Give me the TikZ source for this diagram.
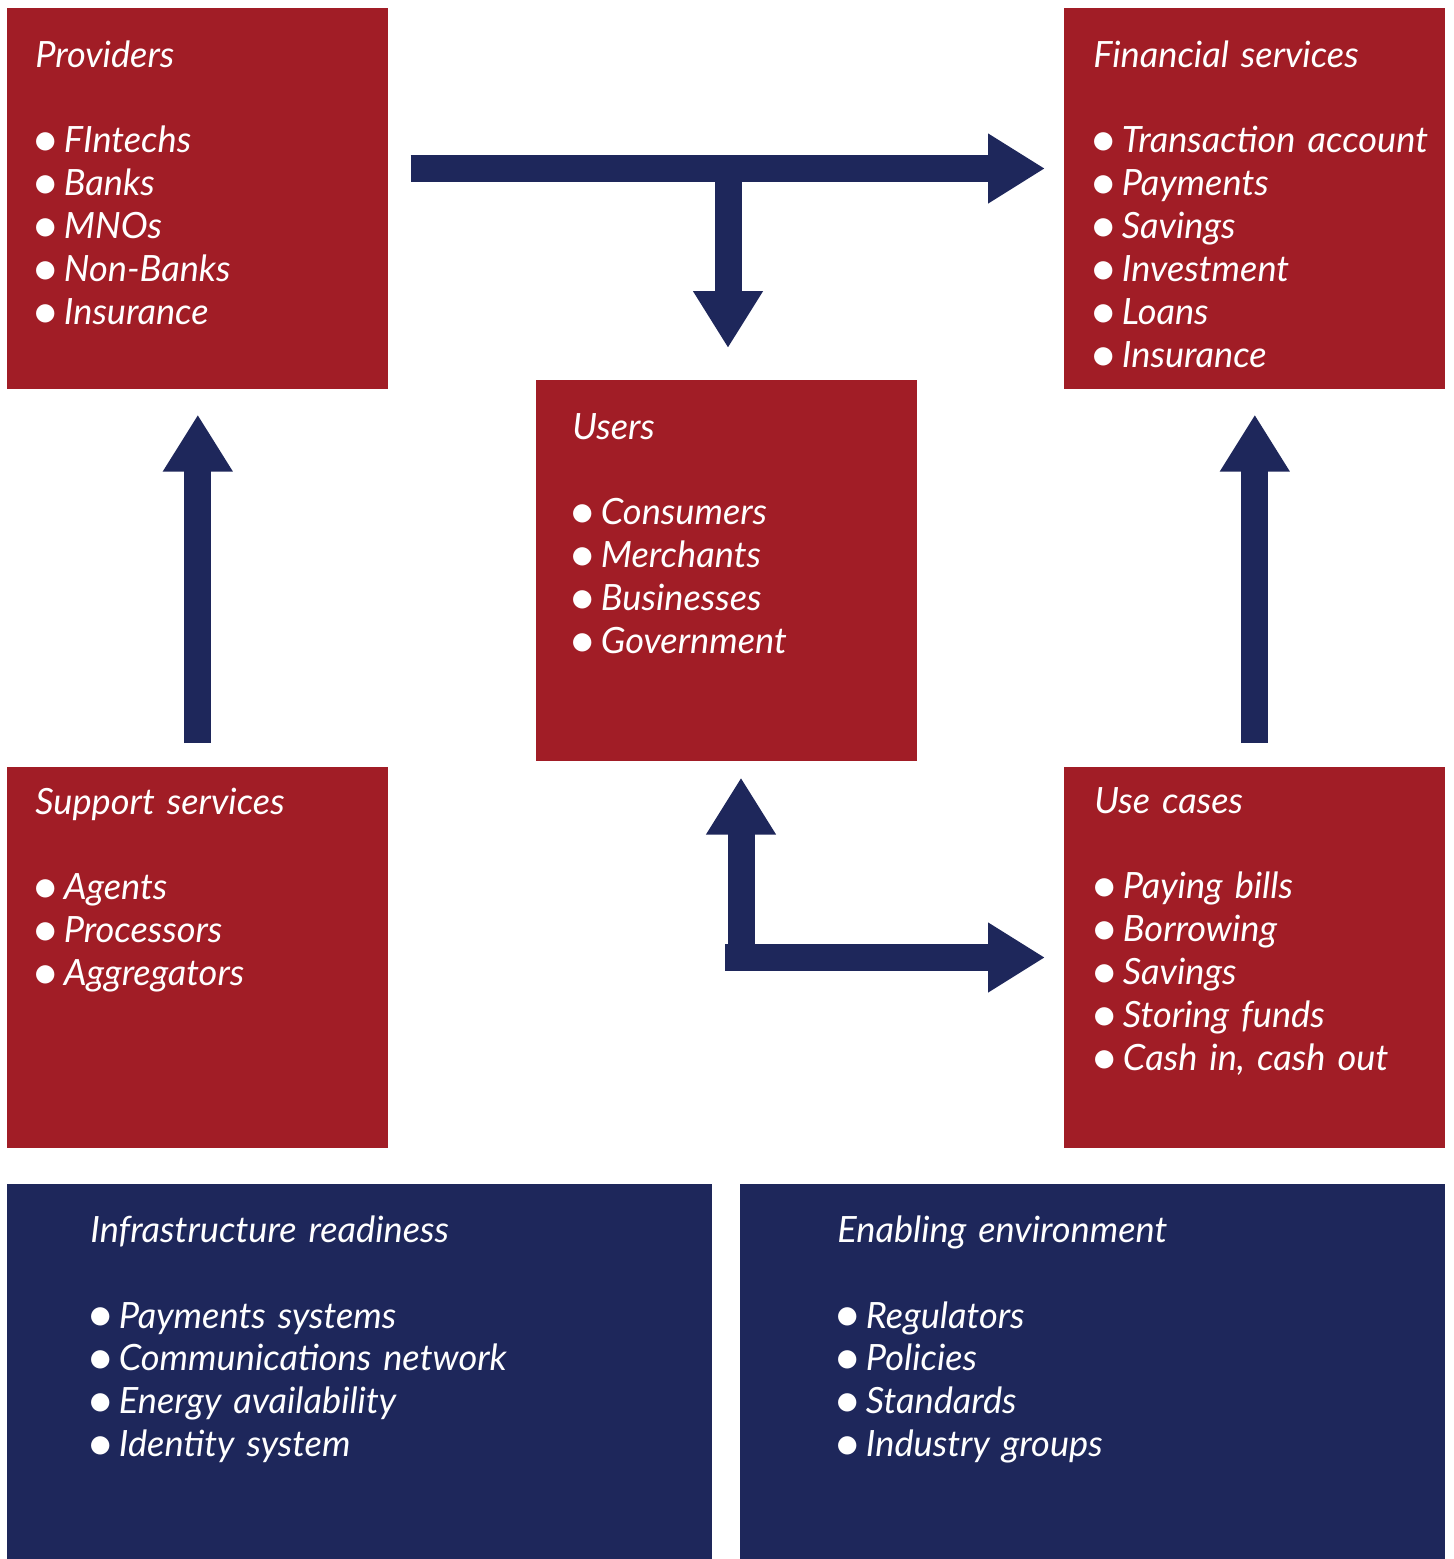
\documentclass[tikz,border=0pt]{standalone}
\usepackage{fontspec}
\setmainfont{Lato}
\usetikzlibrary{arrows.meta}
\definecolor{boxred}{RGB}{161,29,38}
\definecolor{navy}{RGB}{30,39,91}
\newcommand{\bpt}{\hspace{-0.08cm}\smash{\raisebox{-0.07cm}{\fontsize{28}{0}\selectfont\textbullet}}\hspace{0.08cm}}

\begin{document}
\begin{tikzpicture}[x=0.02cm, y=-0.02cm,
    redbox/.style={fill=boxred, minimum width=7.62cm, minimum height=7.62cm, anchor=north west, inner sep=0},
    bluebox/.style={fill=navy, minimum width=14.1cm, minimum height=7.5cm, anchor=north west, inner sep=0},
    txt/.style={text=white, anchor=base west, inner sep=0, text width=10cm, align=left, font=\fontsize{20.6}{24.47}\selectfont\itshape},
    bigarrow/.style={navy, line width=0.54cm, -{Triangle[length=1.14cm, width=1.32cm]}}]
    \useasboundingbox (0,0) rectangle (1454,1559);

    % boxes
    \node[redbox] (prov) at (7,8) {};
    \node[redbox] (fin) at (1064,8) {};
    \node[redbox] (users) at (536,380) {};
    \node[redbox] (supp) at (7,767) {};
    \node[redbox] (use) at (1064,767) {};
    \node[bluebox] (infra) at (7,1184) {};
    \node[bluebox] (env) at (740,1184) {};

    % texts
    \node[txt] (prov-t) at ([shift={(28,59)}]prov.north west)
        {Providers\\[\baselineskip] \bpt FIntechs\\ \bpt Banks\\ \bpt MNOs\\ \bpt Non-Banks\\ \bpt Insurance};
    \node[txt] (fin-t) at ([shift={(29,59)}]fin.north west)
        {Financial services\\[\baselineskip] \bpt Transaction account\\ \bpt Payments\\ \bpt Savings\\ \bpt Investment\\ \bpt Loans\\ \bpt Insurance};
    \node[txt] (users-t) at ([shift={(36,59)}]users.north west)
        {Users\\[\baselineskip] \bpt Consumers\\ \bpt Merchants\\ \bpt Businesses\\ \bpt Government};
    \node[txt] (supp-t) at ([shift={(28,47)}]supp.north west)
        {Support services\\[\baselineskip] \bpt Agents\\ \bpt Processors\\ \bpt Aggregators};
    \node[txt] (use-t) at ([shift={(30,46)}]use.north west)
        {Use cases\\[\baselineskip] \bpt Paying bills\\ \bpt Borrowing\\ \bpt Savings\\ \bpt Storing funds\\ \bpt Cash in, cash out};
    \node[txt] (infra-t) at ([shift={(83,58)}]infra.north west)
        {Infrastructure readiness\\[\baselineskip] \bpt Payments systems\\ \bpt Communications network\\ \bpt Energy availability\\ \bpt Identity system};
    \node[txt] (env-t) at ([shift={(97,58)}]env.north west)
        {Enabling environment\\[\baselineskip] \bpt Regulators\\ \bpt Policies\\ \bpt Standards\\ \bpt Industry groups};

    % arrows
    \coordinate (tee) at (728,168.5);
    \coordinate (corner) at (741,957.5);
    \draw[bigarrow, shorten <=0.44cm, shorten >=0.38cm] (tee -| prov.east) -- (tee -| fin.west);
    \draw[bigarrow, shorten >=0.64cm] (tee) -- (tee |- users.north);
    \draw[bigarrow, shorten <=0.48cm, shorten >=0.5cm] (supp.north) -- (prov.south);
    \draw[bigarrow, shorten <=0.48cm, shorten >=0.5cm] (use.north) -- (fin.south);
    \draw[bigarrow, shorten >=0.32cm] (corner) -- (corner |- users.south);
    \draw[bigarrow, shorten >=0.38cm] ([xshift=-0.32cm]corner) -- (corner -| use.west);
\end{tikzpicture}
\end{document}
